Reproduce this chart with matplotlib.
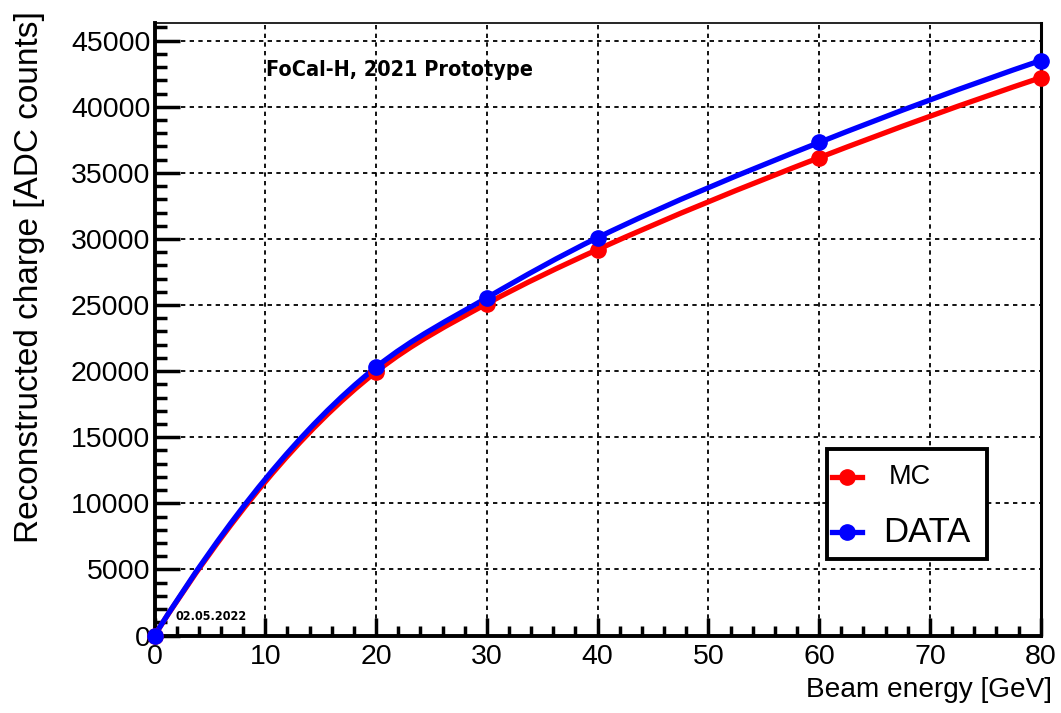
import numpy as np
import matplotlib
matplotlib.use("Agg")
import matplotlib.pyplot as plt
from matplotlib.path import Path
from matplotlib.patches import PathPatch, Rectangle
from matplotlib.lines import Line2D
from matplotlib.ticker import MultipleLocator

# ---- data ----
energy = [0, 20, 30, 40, 60, 80]
mc_charge = [0, 19950, 25100, 29200, 36150, 42200]
data_charge = [0, 20300, 25550, 30100, 37300, 43500]
series_names = ["MC", "DATA"]
series_colors = ["#ff0000", "#0000ff"]
x_ticks = [0, 10, 20, 30, 40, 50, 60, 70, 80]
y_ticks = [0, 5000, 10000, 15000, 20000, 25000, 30000, 35000, 40000, 45000]

plt.rcParams['font.family'] = ['Liberation Sans', 'DejaVu Sans']

W, H = 1061, 713
fig = plt.figure(figsize=(W / 100, H / 100), dpi=100)
L, R, T, B = 154.5, 1040.7, 22.7, 635.5
ax = fig.add_axes([L / W, 1 - B / H, (R - L) / W, (B - T) / H])
ax.set_xlim(0, 80)
ax.set_ylim(0, 45000 * (B - T) / (B - 40.7))


def pchip_slopes(x, y):
    x = np.asarray(x, float); y = np.asarray(y, float)
    h = np.diff(x); d = np.diff(y) / h
    n = len(x); m = np.zeros(n)
    for k in range(1, n - 1):
        if d[k - 1] * d[k] > 0:
            w1 = 2 * h[k] + h[k - 1]; w2 = h[k] + 2 * h[k - 1]
            m[k] = (w1 + w2) / (w1 / d[k - 1] + w2 / d[k])
    m[0] = ((2 * h[0] + h[1]) * d[0] - h[0] * d[1]) / (h[0] + h[1])
    m[-1] = ((2 * h[-1] + h[-2]) * d[-1] - h[-1] * d[-2]) / (h[-1] + h[-2])
    return m


def smooth_path(x, y):
    m = pchip_slopes(x, y)
    verts = [(x[0], y[0])]
    codes = [Path.MOVETO]
    for i in range(len(x) - 1):
        hh = x[i + 1] - x[i]
        verts += [(x[i] + hh / 3, y[i] + m[i] * hh / 3),
                  (x[i + 1] - hh / 3, y[i + 1] - m[i + 1] * hh / 3),
                  (x[i + 1], y[i + 1])]
        codes += [Path.CURVE4] * 3
    return Path(verts, codes)


for ys, col in zip([mc_charge, data_charge], series_colors):
    patch = PathPatch(smooth_path(energy, ys), facecolor='none', edgecolor=col,
                      lw=3.8, transform=ax.transData, zorder=3, clip_on=False,
                      capstyle='round', joinstyle='round')
    ax.add_patch(patch)
    ax.plot(energy, ys, 'o', color=col, ms=11, mec=col, zorder=4, clip_on=False)

# grid
ax.set_xticks(x_ticks)
ax.set_yticks(y_ticks)
ax.xaxis.set_minor_locator(MultipleLocator(2))
ax.yaxis.set_minor_locator(MultipleLocator(1000))
ax.grid(True, which='major', color='black', linestyle=(0, (2.4, 2.4)), lw=1.3)
ax.set_axisbelow(True)

ax.tick_params(which='both', direction='in', top=False, right=False, width=2.5, color='black')
ax.tick_params(axis='y', which='major', length=18, labelsize=20.5, pad=3)
ax.tick_params(axis='y', which='minor', length=8.6)
ax.tick_params(axis='x', which='major', length=13, labelsize=20.5, pad=6)
ax.tick_params(axis='x', which='minor', length=7)

ax.spines['left'].set_linewidth(2.8)
ax.spines['bottom'].set_linewidth(2.8)
ax.spines['top'].set_linewidth(1.2)
ax.spines['right'].set_linewidth(2.2)

# axis titles
fig.text(30 / W, 1 - 277 / H, "Reconstructed charge [ADC counts]", rotation=90,
         ha='center', va='center', fontsize=24)
fig.text(1052 / W, 1 - 690 / H, "Beam energy [GeV]", ha='right', va='center', fontsize=20.2)

# annotations
fig.text(266 / W, 1 - 70 / H, "FoCal-H, 2021 Prototype", ha='left', va='center',
         fontsize=15.5, fontweight='bold', family='DejaVu Sans', fontstretch='condensed')
fig.text(176 / W, 1 - 617 / H, "02.05.2022", ha='left', va='center',
         fontsize=9, fontweight='bold', family='DejaVu Sans', fontstretch='condensed')

# legend box
lx0, ly0, lx1, ly1 = 827, 449, 987, 559
fig.patches.append(Rectangle((lx0 / W, 1 - ly1 / H), (lx1 - lx0) / W, (ly1 - ly0) / H,
                             transform=fig.transFigure, facecolor='white',
                             edgecolor='black', lw=2.8, zorder=10))
for name, col, yy, fs in zip(series_names, series_colors, [477, 532], [19.5, 25]):
    fig.lines.append(Line2D([832 / W, 862 / W], [1 - yy / H, 1 - yy / H], color=col, lw=3.8,
                            transform=fig.transFigure, zorder=11))
    fig.lines.append(Line2D([847 / W], [1 - yy / H], marker='o', ms=11, color=col,
                            transform=fig.transFigure, zorder=12))
    fig.text((910 if name == "MC" else 927) / W, 1 - yy / H, name, ha='center', va='center',
             fontsize=fs, zorder=12)

fig.savefig("out.png", dpi=100)
